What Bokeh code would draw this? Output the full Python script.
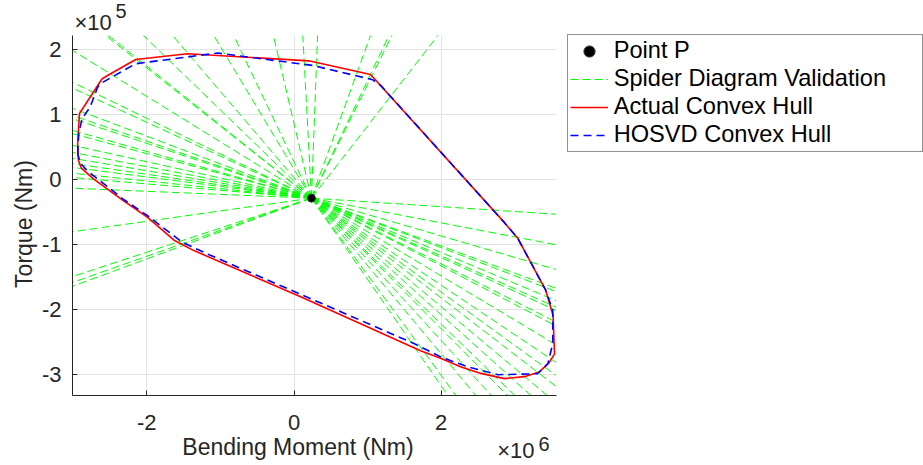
import numpy as np
from bokeh.plotting import figure
from bokeh.models import Range1d, FixedTicker, Label, Legend, LegendItem, Grid
from bokeh.embed import file_html
from bokeh.resources import INLINE

# Units: bending moment in 1e6 Nm, torque in 1e5 Nm
MX = 1e6
TQ = 1e5

# Point P
point_p_x = [0.237]
point_p_y = [-0.283]

# Actual convex hull vertices (closed)
actual_hull_x = [-2.94, -2.915, -2.61, -2.54, -2.15, -1.45, 0.20, 1.04, 2.86, 3.04,
                 3.42, 3.52, 3.54, 3.47, 3.33, 3.13, 2.86, 2.54, 2.27, 2.00, 1.72,
                 0.09, -1.36, -1.63, -1.99, -2.32, -2.725, -2.89, -2.93, -2.94]
actual_hull_y = [0.56, 1.02, 1.55, 1.60, 1.85, 1.94, 1.83, 1.62, -0.66, -0.90,
                 -1.70, -2.09, -2.68, -2.81, -2.96, -3.03, -3.06, -2.98, -2.88, -2.75, -2.63,
                 -1.80, -1.09, -0.93, -0.58, -0.32, 0.015, 0.18, 0.30, 0.56]

# HOSVD convex hull vertices (closed)
hosvd_hull_x = [-2.94, -2.925, -2.88, -2.77, -2.67, -2.63, -2.154, -1.04, 0.25, 1.067,
                1.18, 2.86, 3.04, 3.42, 3.516, 3.516, 3.45, 3.31, 2.77, 2.36, 2.00,
                1.63, -0.18, -1.18, -1.52, -1.995, -2.32, -2.81, -2.90, -2.94]
hosvd_hull_y = [0.40, 0.71, 0.94, 1.12, 1.42, 1.48, 1.785, 1.95, 1.76, 1.54,
                1.45, -0.66, -0.90, -1.70, -2.01, -2.52, -2.83, -2.985, -3.00, -2.88, -2.73,
                -2.52, -1.63, -1.14, -0.96, -0.55, -0.30, 0.14, 0.25, 0.40]

# Spider rays from P: where each validation ray leaves the axes box
spider_end_x = ([-3.01] * 20
                + [-2.56, -2.52, -2.045, -1.65, -1.09, -0.82, -0.28, 0.12, 0.32, 1.04, 1.29, 1.33, 1.955]
                + [3.56] * 14
                + [3.44, 3.22, 3.00, 2.90, 2.68, 2.47, 2.20, 2.09])
spider_end_y = ([1.99, 1.50, 1.41, 1.10, 0.99, 0.94, 0.76, 0.71, 0.53, 0.42,
                 0.33, 0.25, 0.19, 0.10, 0.035, -0.13, -0.80, -1.49, -1.58, -1.64]
                + [2.22] * 13
                + [-0.53, -1.00, -1.38, -1.67, -1.72, -1.86, -1.96, -2.01, -2.19, -2.25,
                   -2.54, -2.81, -3.01, -3.18]
                + [-3.32] * 8)

x_ticks = [-2, 0, 2]
y_ticks = [-3, -2, -1, 0, 1, 2]

# axes box limits
X_MIN, X_MAX = -3.01, 3.56
Y_MIN, Y_MAX = -3.32, 2.22

W, H = 923, 465
# pixel placement of the axes box inside the page
AX_L, AX_R, AX_T, AX_B = 72.0, 555.5, 35.0, 395.0

FONT = "Liberation Sans"
AX_COLOR = "#262626"

# per-pixel scale of the axes box
kx = (X_MAX - X_MIN) / (AX_R - AX_L)
ky = (Y_MAX - Y_MIN) / (AX_B - AX_T)


def dx(px):
    return (X_MIN + (px - AX_L) * kx) * MX


def dy(py):
    return (Y_MAX - (py - AX_T) * ky) * TQ


p = figure(width=W, height=H,
           x_range=Range1d(dx(0), dx(W)),
           y_range=Range1d(dy(H), dy(0)),
           output_backend="svg", toolbar_location=None,
           min_border_left=0, min_border_right=0,
           min_border_top=0, min_border_bottom=0)
p.outline_line_color = None
p.background_fill_color = "white"
p.border_fill_color = "white"

# axes pinned to the lower-left corner of the box
xa, ya = p.xaxis[0], p.yaxis[0]
xa.fixed_location = Y_MIN * TQ
ya.fixed_location = X_MIN * MX
xa.bounds = (X_MIN * MX, X_MAX * MX)
ya.bounds = (Y_MIN * TQ, Y_MAX * TQ)
for ax in (xa, ya):
    ax.axis_line_color = AX_COLOR
    ax.axis_line_width = 1
    ax.major_tick_line_color = AX_COLOR
    ax.major_tick_in = 5
    ax.major_tick_out = 0
    ax.minor_tick_line_color = None
    ax.major_label_text_font = FONT
    ax.major_label_text_font_size = "22px"
    ax.major_label_text_color = AX_COLOR

xa.ticker = FixedTicker(ticks=[t * MX for t in x_ticks])
xa.major_label_overrides = {t * MX: "%d" % t for t in x_ticks}
xa.major_label_standoff = 19
ya.ticker = FixedTicker(ticks=[t * TQ for t in y_ticks])
ya.major_label_overrides = {t * TQ: "%d" % t for t in y_ticks}
ya.major_label_standoff = 11

# grid limited to the axes box
xg, yg = p.xgrid[0], p.ygrid[0]
for g in (xg, yg):
    g.grid_line_color = "#e3e3e3"
    g.grid_line_width = 1
xg.ticker = xa.ticker
yg.ticker = ya.ticker
xg.bounds = (X_MIN * MX, X_MAX * MX)
yg.bounds = (Y_MIN * TQ, Y_MAX * TQ)
if "cross_bounds" in Grid.properties():
    xg.cross_bounds = (Y_MIN * TQ, Y_MAX * TQ)
    yg.cross_bounds = (X_MIN * MX, X_MAX * MX)
else:
    xg.visible = False
    yg.visible = False
    p.segment(x0=[t * MX for t in x_ticks], x1=[t * MX for t in x_ticks],
              y0=Y_MIN * TQ, y1=Y_MAX * TQ, line_color="#e3e3e3", line_width=1)
    p.segment(x0=X_MIN * MX, x1=X_MAX * MX, y0=[t * TQ for t in y_ticks],
              y1=[t * TQ for t in y_ticks], line_color="#e3e3e3", line_width=1)

# spider validation rays from P
px0, py0 = point_p_x[0], point_p_y[0]
r_spider = p.multi_line(xs=[[px0 * MX, ex * MX] for ex in spider_end_x],
                        ys=[[py0 * TQ, ey * TQ] for ey in spider_end_y],
                        line_color="#00ff00", line_width=1, line_dash="8 4")

r_actual = p.line(np.array(actual_hull_x) * MX, np.array(actual_hull_y) * TQ,
                  line_color="#ff0000", line_width=1.6)
r_hosvd = p.line(np.array(hosvd_hull_x) * MX, np.array(hosvd_hull_y) * TQ,
                 line_color="#0000ff", line_width=1.6, line_dash="8 5")
r_p = p.scatter(np.array(point_p_x) * MX, np.array(point_p_y) * TQ, size=8,
                fill_color="black", line_color="#333333", line_width=1)

legend = Legend(items=[LegendItem(label="Point P", renderers=[r_p]),
                       LegendItem(label="Spider Diagram Validation", renderers=[r_spider]),
                       LegendItem(label="Actual Convex Hull", renderers=[r_actual]),
                       LegendItem(label="HOSVD Convex Hull", renderers=[r_hosvd])],
                location=(566.7, H - 151.7))
legend.label_text_font = FONT
legend.label_text_font_size = "23.6px"
legend.label_text_color = "black"
legend.label_height = 28
legend.glyph_height = 28
legend.glyph_width = 38
legend.label_standoff = 6
legend.label_width = 306
legend.padding = 2
legend.spacing = 0
legend.border_line_color = AX_COLOR
legend.border_line_width = 1
legend.background_fill_color = "white"
legend.background_fill_alpha = 1
p.add_layout(legend)

# axis titles and scale factors (anchor sits a little above the drawn baseline)
SHIFT = 8
txt = dict(text_font=FONT, text_color=AX_COLOR)
p.add_layout(Label(x=dx(297.5), y=dy(454 - SHIFT), text="Bending Moment (Nm)",
                   text_align="center", text_baseline="alphabetic",
                   text_font_size="23px", **txt))
p.add_layout(Label(x=dx(31.5 - SHIFT), y=dy(223.5), text="Torque (Nm)", angle=np.pi / 2,
                   text_align="center", text_baseline="alphabetic",
                   text_font_size="23px", **txt))
p.add_layout(Label(x=dx(74), y=dy(30 - SHIFT), text="×10", text_align="left",
                   text_baseline="alphabetic", text_font_size="22px", **txt))
p.add_layout(Label(x=dx(115), y=dy(18.3 - SHIFT), text="5", text_align="left",
                   text_baseline="alphabetic", text_font_size="20px", **txt))
p.add_layout(Label(x=dx(496.7), y=dy(458.3 - SHIFT), text="×10", text_align="left",
                   text_baseline="alphabetic", text_font_size="22px", **txt))
p.add_layout(Label(x=dx(538), y=dy(451.7 - SHIFT), text="6", text_align="left",
                   text_baseline="alphabetic", text_font_size="20px", **txt))

open("out.html", "w").write(file_html(p, INLINE))
